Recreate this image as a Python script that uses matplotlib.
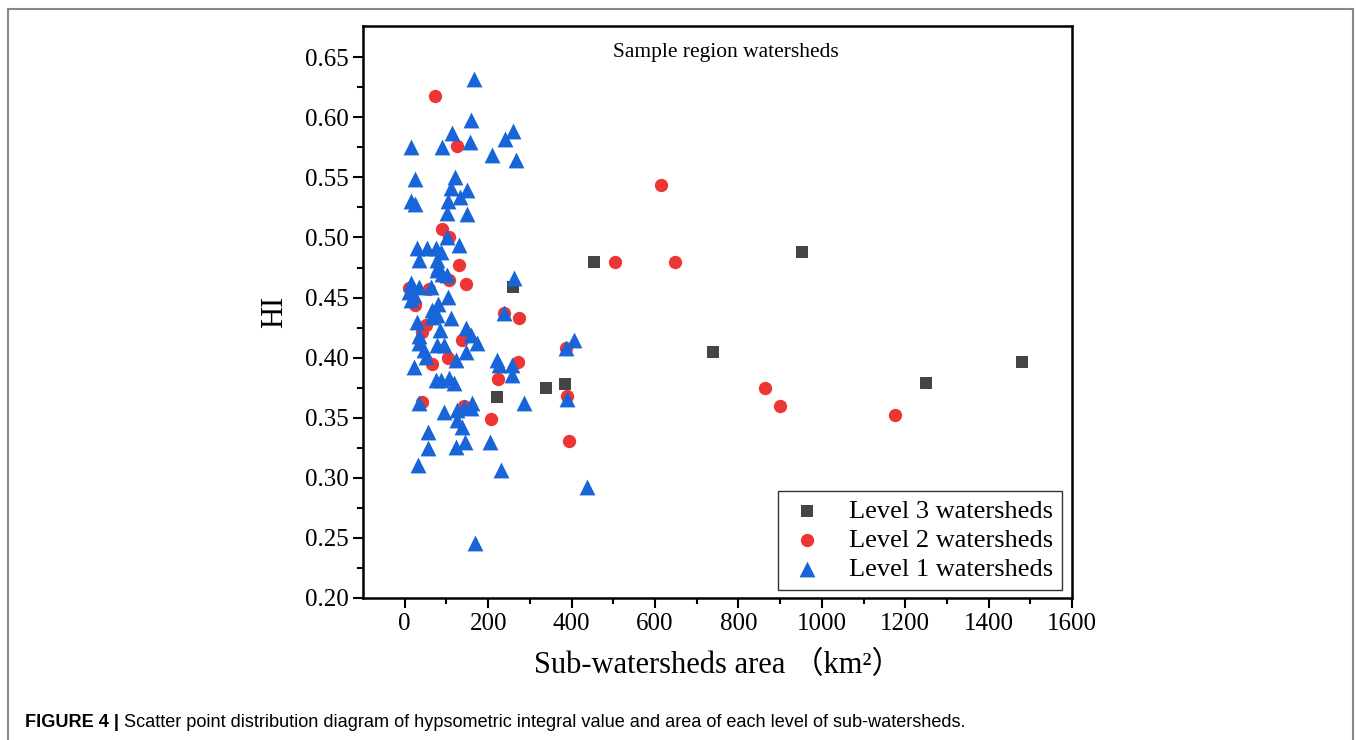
import numpy as np
import matplotlib
matplotlib.use("Agg")
import matplotlib.pyplot as plt
from matplotlib.patches import Rectangle

plt.rcParams["font.family"] = ["Liberation Serif", "DejaVu Serif"]

# Level 3 watersheds (area km2, HI)
l3_area = [222, 259, 339, 384, 453, 738, 953, 1250, 1480]
l3_hi = [0.3675, 0.459, 0.3745, 0.378, 0.480, 0.405, 0.488, 0.379, 0.396]

# Level 2 watersheds
l2_area = [72, 126, 89, 105, 130, 146, 106, 10, 58, 24, 50, 42, 138, 104, 66,
           274, 238, 272, 224, 42, 142, 208, 386, 390, 395, 505, 647, 615,
           865, 900, 1175]
l2_hi = [0.618, 0.576, 0.507, 0.500, 0.477, 0.461, 0.4646, 0.4576, 0.4568,
         0.4438, 0.427, 0.4215, 0.4146, 0.3994, 0.3947, 0.4332, 0.437, 0.3966,
         0.382, 0.3633, 0.360, 0.3487, 0.408, 0.368, 0.3306, 0.480, 0.480,
         0.544, 0.3745, 0.360, 0.3525]

# Level 1 watersheds
l1_area = [166, 159, 114, 156, 89, 16, 259, 240, 210, 266, 24, 120, 112, 149,
           132, 14, 24, 104, 102, 150, 101, 130, 30, 54, 74, 86, 34, 78, 81,
           78, 90, 102, 262, 14, 34, 10, 22, 14, 62, 104, 80, 66, 78, 66, 112,
           29, 84, 146, 158, 174, 34, 34, 78, 94, 46, 50, 146, 122, 22, 222,
           226, 238, 258, 258, 286, 74, 86, 106, 118, 34, 94, 126, 142, 162,
           158, 126, 138, 56, 144, 122, 204, 56, 32, 232, 436, 168, 405, 387,
           388]
l1_hi = [0.6315, 0.598, 0.5866, 0.5797, 0.5755, 0.575, 0.589, 0.582, 0.569,
         0.5644, 0.549, 0.5505, 0.541, 0.5394, 0.534, 0.530, 0.528, 0.530,
         0.520, 0.5195, 0.5006, 0.4937, 0.491, 0.491, 0.491, 0.488, 0.4812,
         0.481, 0.4757, 0.473, 0.470, 0.469, 0.466, 0.462, 0.459, 0.455,
         0.452, 0.448, 0.459, 0.4507, 0.445, 0.4396, 0.4354, 0.434, 0.4327,
         0.430, 0.423, 0.4244, 0.4188, 0.412, 0.4177, 0.412, 0.4105, 0.4105,
         0.4063, 0.4008, 0.405, 0.398, 0.3924, 0.398, 0.394, 0.4369, 0.3938,
         0.3855, 0.362, 0.3814, 0.3814, 0.3828, 0.3786, 0.362, 0.355, 0.3564,
         0.3592, 0.362, 0.3578, 0.348, 0.3425, 0.3384, 0.330, 0.3259, 0.330,
         0.3245, 0.3106, 0.3065, 0.2926, 0.246, 0.4146, 0.408, 0.3655]

xticks = [0, 200, 400, 600, 800, 1000, 1200, 1400, 1600]
yticks = [0.20, 0.25, 0.30, 0.35, 0.40, 0.45, 0.50, 0.55, 0.60, 0.65]

fig = plt.figure(figsize=(13.56, 7.40), dpi=100)
ax = fig.add_axes([0.2677, 0.1919, 0.5229, 0.773])

s3 = ax.scatter(l3_area, l3_hi, marker="s", s=78, color="#454545", lw=0,
                label="Level 3 watersheds", zorder=3)
s2 = ax.scatter(l2_area, l2_hi, marker="o", s=92, color="#ee3535", lw=0,
                label="Level 2 watersheds", zorder=4)
s1 = ax.scatter(l1_area, l1_hi, marker="^", s=130, color="#1765d8", lw=0,
                label="Level 1 watersheds", zorder=5)

ax.set_xlim(-100, 1600)
ax.set_ylim(0.20, 0.676)
ax.set_xticks(xticks)
ax.set_yticks(yticks)
ax.set_xticks(np.arange(100, 1600, 200), minor=True)
ax.set_yticks(np.arange(0.225, 0.65, 0.05), minor=True)
ax.set_yticklabels([f"{v:.2f}" for v in yticks])
ax.tick_params(which="both", direction="out", width=1.5, labelsize=18,
               top=False, right=False)
ax.tick_params(which="major", length=7)
ax.tick_params(which="minor", length=4)
for sp in ax.spines.values():
    sp.set_linewidth(1.8)

ax.set_xlabel("Sub-watersheds area （km²）", fontsize=22, labelpad=12,
              family=["Liberation Serif", "Noto Sans CJK SC"])
ax.set_ylabel("HI", fontsize=22, labelpad=11)
ax.text(0.512, 0.9545, "Sample region watersheds", transform=ax.transAxes,
        ha="center", va="center", fontsize=15.5)

leg = ax.legend(handles=[s3, s2, s1], loc="lower right",
                bbox_to_anchor=(0.986, 0.014), borderaxespad=0,
                fontsize=19, fancybox=False, edgecolor="#333333",
                framealpha=1, borderpad=0.35, handlelength=1.5,
                handletextpad=0.85, labelspacing=0.2)
leg.get_frame().set_linewidth(1.0)

# panel border and caption
fig.patches.append(Rectangle((8 / 1356, -0.2), 1345 / 1356, 1.2 - 9 / 740,
                             transform=fig.transFigure, fill=False,
                             edgecolor="#888888", lw=1.5))
cap = fig.text(25 / 1356, 0.0243, "FIGURE 4 |", fontsize=13.1,
               fontweight="bold", family="Liberation Sans", va="center")
ax.annotate(" Scatter point distribution diagram of hypsometric integral value "
            "and area of each level of sub-watersheds.",
            xy=(1, 0.5), xycoords=cap, va="center", ha="left",
            fontsize=13.1, family="Liberation Sans", annotation_clip=False)

fig.savefig("out.png", dpi=100)
